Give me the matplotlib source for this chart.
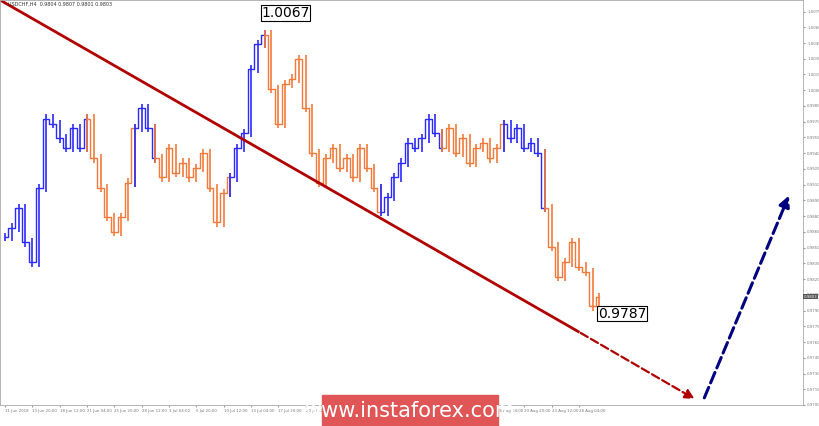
import matplotlib
matplotlib.use("Agg")
import matplotlib.pyplot as plt
import numpy as np

closes = [0.9860,0.9869,0.9888,0.9855,0.9836,0.9907,0.9973,0.9968,0.9954,0.9945,
          0.9964,0.9945,0.9973,0.9935,0.9907,0.9879,0.9865,0.9879,0.9912,0.9964,
          0.9983,0.9964,0.9935,0.9917,0.9945,0.9921,0.9931,0.9917,0.9926,0.9940,
          0.9907,0.9874,0.9902,0.9917,0.9945,0.9959,1.0020,1.0044,1.0053,1.0001,
          0.9968,1.0006,1.0011,1.0030,0.9983,0.9940,0.9912,0.9935,0.9945,0.9926,
          0.9935,0.9917,0.9945,0.9926,0.9907,0.9884,0.9898,0.9917,0.9931,0.9950,
          0.9945,0.9954,0.9973,0.9959,0.9945,0.9964,0.9940,0.9954,0.9931,0.9945,
          0.9950,0.9935,0.9945,0.9968,0.9954,0.9964,0.9945,0.9950,0.9940,0.9888,
          0.9851,0.9822,0.9836,0.9855,0.9832,0.9827,0.9794,0.9803]
seg_bounds = [0,12,19,22,33,38,55,64,73,79,87]
seg_colors = ['#2b2bff','#f47a3a']*5
xlabels = ['11 Jun 2018','13 Jun 20:00','18 Jun 12:00','21 Jun 04:00','25 Jun 20:00',
           '28 Jun 12:00','3 Jul 04:00','5 Jul 20:00','10 Jul 12:00','13 Jul 04:00',
           '17 Jul 20:00','20 Jul 12:00','25 Jul 04:00','27 Jul 20:00','1 Aug 12:00',
           '6 Aug 04:00','8 Aug 20:00','13 Aug 12:00','16 Aug 04:00','20 Aug 20:00',
           '23 Aug 12:00','28 Aug 04:00']
yticks = [round(1.0075-0.0015*k,4) for k in range(26)]
high_label, low_label, last_price = 1.0067, 0.9787, 0.9803
red_line = ([-0.73, 83.9], [1.0086, 0.9770])
red_dash = ([83.9, 101.3], [0.9770, 0.97044])
blue_dash = ([102.2, 114.9], [0.97044, 0.9902])

fig = plt.figure(figsize=(8.2,4.26), dpi=100)
ax = fig.add_axes([0, 21/426, 803/820, 405/426])
ax.set_xlim(-0.73, 116.8)
ax.set_ylim(0.97044, 1.0086)
for s in range(len(seg_bounds)-1):
    a, b = seg_bounds[s], seg_bounds[s+1]
    xs = np.arange(a, b+1); ys = closes[a:b+1]
    ax.step(xs, ys, where='mid', color=seg_colors[s], lw=1.0)
    for i in range(a, b+1):
        lo = min(ys[i-a], closes[i-1] if i > 0 else ys[i-a]) - 0.0004
        hi = max(ys[i-a], closes[i-1] if i > 0 else ys[i-a]) + 0.0004
        ax.vlines(i, lo, hi, color=seg_colors[s], lw=1.2)
ax.plot(*red_line, color='#b00000', lw=2)
ax.annotate('', xy=(red_dash[0][1], red_dash[1][1]), xytext=(red_dash[0][0], red_dash[1][0]),
            arrowprops=dict(arrowstyle='-|>', color='#b00000', lw=1.6, ls='--', mutation_scale=14))
ax.annotate('', xy=(blue_dash[0][1], blue_dash[1][1]), xytext=(blue_dash[0][0], blue_dash[1][0]),
            arrowprops=dict(arrowstyle='-|>', color='#000080', lw=2.2, ls='--', mutation_scale=16))
ax.text(37.5, high_label, f'{high_label:.4f}', fontsize=10, va='bottom', ha='left',
        bbox=dict(fc='white', ec='black', lw=0.8, pad=0.5))
ax.text(86.8, low_label, f'{low_label:.4f}', fontsize=10, va='center', ha='left',
        bbox=dict(fc='white', ec='black', lw=0.8, pad=0.5))
ax.yaxis.tick_right()
ax.set_yticks(yticks)
ax.set_yticklabels([f'{v:.4f}' for v in yticks], fontsize=2.8, color='#777777')
ax.set_xticks(np.arange(len(xlabels))*4)
ax.set_xticklabels(xlabels, fontsize=2.8, color='#777777', ha='left')
ax.tick_params(length=1.5, color='#999999', pad=1.5)
for sp in ax.spines.values():
    sp.set_color('#aaaaaa'); sp.set_linewidth(0.6)
ax.text(116.95, last_price, f'{last_price:.4f}', fontsize=2.8, color='white', va='center', ha='left',
        bbox=dict(fc='#555555', ec='none', pad=0.4), clip_on=False)
ax.text(0.01, 0.995, 'USDCHF,H4  0.9804 0.9807 0.9801 0.9803', transform=ax.transAxes,
        fontsize=3.5, va='top', color='#333333')
fig.patches.append(plt.Rectangle((322/820, 0), 176/820, 31/426, transform=fig.transFigure,
                                 color='#e05555', zorder=5))
fig.text(410/820, 15/426, 'www.instaforex.com', color='white', fontsize=15, ha='center', va='center', zorder=6)
fig.savefig('out.png', dpi=100)
